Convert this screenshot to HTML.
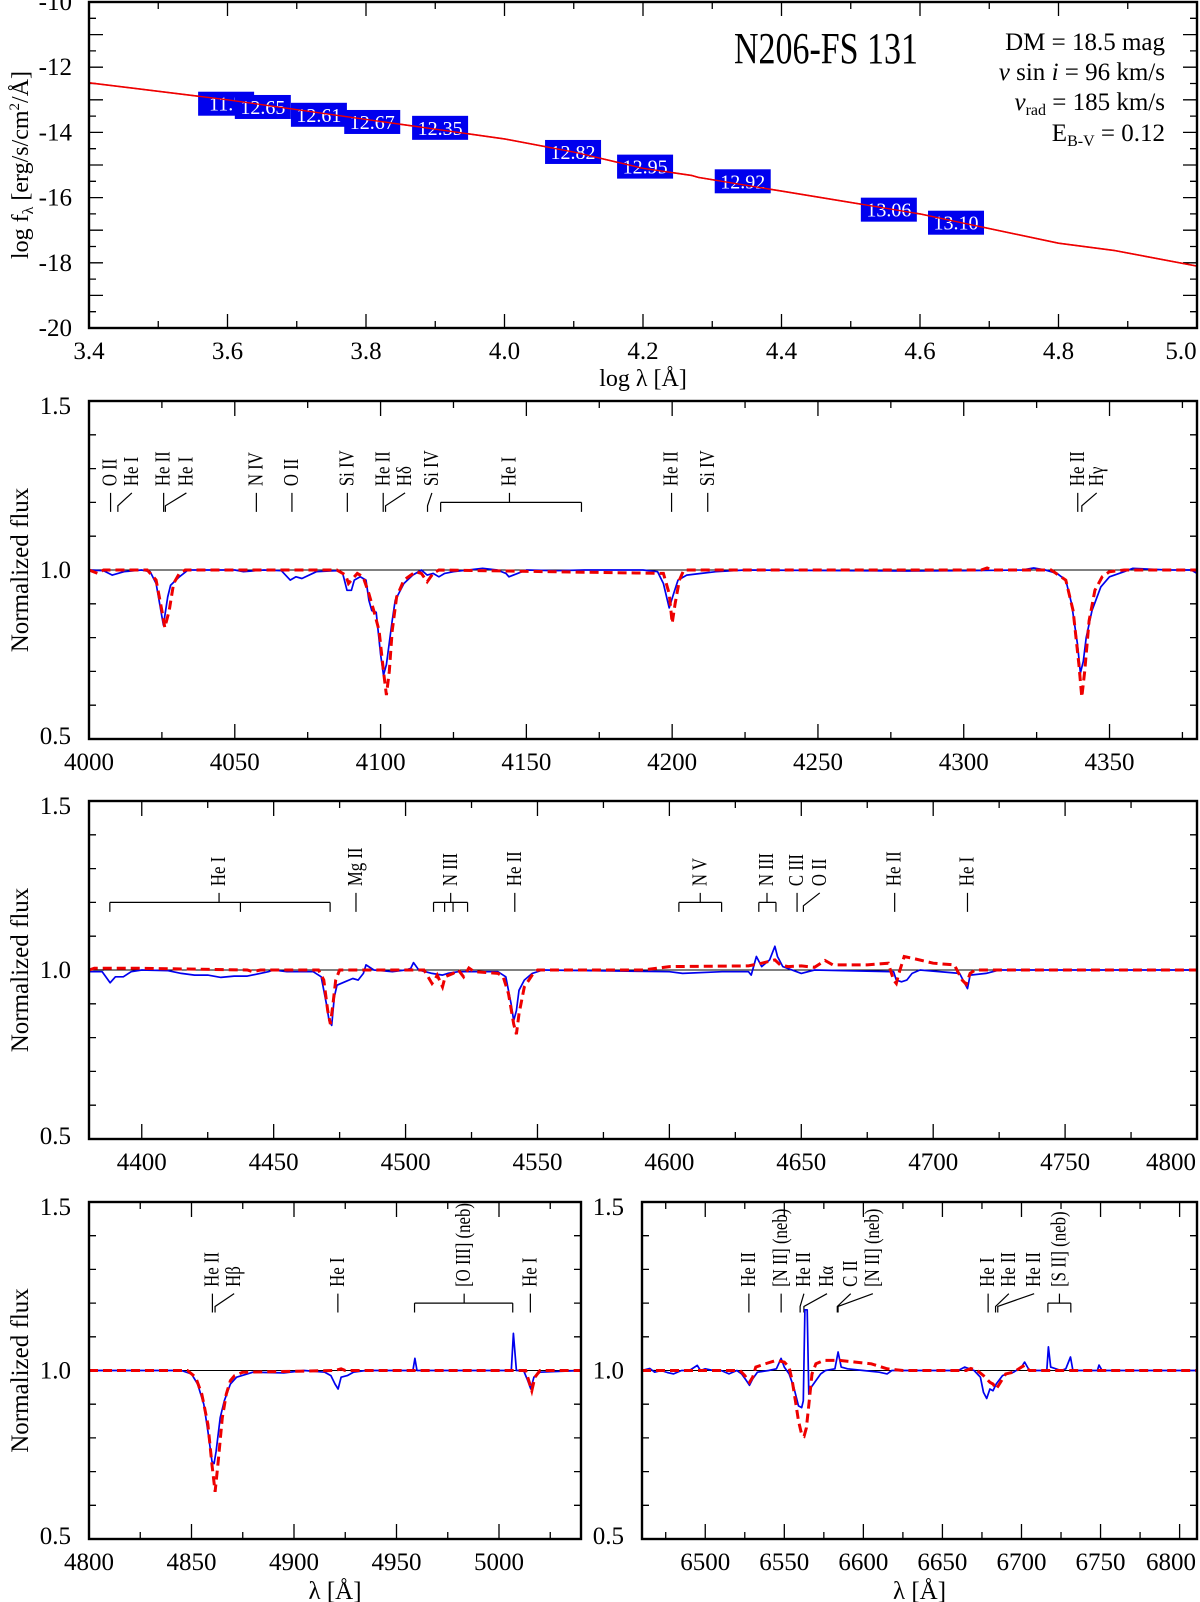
<!DOCTYPE html>
<html><head><meta charset="utf-8"><title>N206-FS 131</title>
<style>
html,body{margin:0;padding:0;background:#fff;}
svg{display:block;font-family:"Liberation Serif",serif;}
</style></head>
<body>
<svg id="fig" xmlns="http://www.w3.org/2000/svg" width="1200" height="1602" viewBox="0 0 1200 1602">
<rect width="1200" height="1602" fill="#fff"/>
</svg>
<script>
// ---------- SED panel data ----------
const sedLogLam = [3.4, 3.6, 3.8, 4.0, 4.1, 4.2, 4.27, 4.28, 4.4, 4.6, 4.8, 4.88, 5.0];
const sedLogF = [-12.48, -13.0, -13.6, -14.2, -14.6, -15.1, -15.32, -15.38, -15.8, -16.5, -17.4, -17.62, -18.1];
const photLogLam = [3.598, 3.651, 3.732, 3.809, 3.907, 4.099, 4.203, 4.344, 4.555, 4.652];
const photLogF = [-13.12, -13.22, -13.46, -13.68, -13.86, -14.6, -15.05, -15.5, -16.37, -16.77];
const photLabels = ["11.7", "12.65", "12.61", "12.67", "12.35", "12.82", "12.95", "12.92", "13.06", "13.10"];
const sedXTicks = ["3.4", "3.6", "3.8", "4.0", "4.2", "4.4", "4.6", "4.8", "5.0"];
const sedYTicks = ["-10", "-12", "-14", "-16", "-18", "-20"];

// ---------- Panel 2 (4000-4380) ----------
const p2Obs = [[4000,1.0],[4005,0.998],[4008,0.985],[4012,0.995],[4018,1.0],[4021,0.995],[4023,0.96],[4025.5,0.837],[4027,0.92],[4028,0.955],[4031,0.98],[4034,1.0],[4050,1.0],[4053,0.995],[4060,1.0],[4066,0.998],[4069,0.97],[4071,0.98],[4073,0.975],[4078,0.995],[4085,0.998],[4087,0.99],[4088.5,0.94],[4090,0.94],[4091,0.97],[4093,0.98],[4095,0.97],[4096,0.91],[4097,0.88],[4098.5,0.875],[4100,0.75],[4101,0.689],[4102,0.72],[4104,0.85],[4105,0.91],[4108,0.96],[4111,0.985],[4114,1.0],[4116,0.985],[4118,0.99],[4120,0.98],[4122,0.99],[4125,0.995],[4135,1.005],[4140,1.0],[4143,0.99],[4144,0.98],[4147,0.99],[4150,1.0],[4160,0.998],[4170,1.0],[4190,1.0],[4195,0.995],[4197,0.96],[4199,0.888],[4200.5,0.93],[4202,0.97],[4205,0.985],[4210,0.99],[4215,0.995],[4225,1.0],[4280,0.997],[4300,0.998],[4320,1.0],[4324,1.006],[4328,1.0],[4332,0.99],[4335,0.97],[4337,0.9],[4339,0.78],[4340,0.695],[4341,0.73],[4342,0.8],[4344,0.88],[4347,0.95],[4350,0.98],[4355,0.995],[4358,1.005],[4370,1.0],[4378,1.0],[4380,0.99]];
const p2Mod = [[4000,1.0],[4003,0.99],[4005,1.0],[4020,1.0],[4023,0.97],[4025,0.88],[4026,0.83],[4027.5,0.88],[4029,0.96],[4031,0.99],[4033,1.0],[4085,1.0],[4088,0.985],[4089,0.96],[4090,0.97],[4092,0.99],[4094,0.98],[4096,0.93],[4098,0.87],[4099.5,0.82],[4101,0.7],[4102,0.63],[4103,0.7],[4104,0.82],[4105.5,0.92],[4108,0.97],[4112,0.995],[4114,0.99],[4116,0.965],[4118,0.99],[4120,1.0],[4197,0.99],[4199,0.93],[4200,0.843],[4201,0.9],[4202.5,0.97],[4204,1.0],[4306,1.0],[4308,1.006],[4310,1.0],[4330,1.0],[4335,0.97],[4337.5,0.88],[4339.5,0.72],[4340.5,0.624],[4341.5,0.7],[4343,0.85],[4345,0.94],[4347.5,0.98],[4350,0.995],[4355,1.0],[4380,1.0]];
const p2Ids = [{t:"O II",lam:4007.4,lx:4007.4},{t:"He I",lam:4009.9,lx:4014.7},{t:"He II",lam:4025.6,lx:4025.6},{t:"He I",lam:4026.2,lx:4033.4},{t:"N IV",lam:4057.4,lx:4057.4},{t:"O II",lam:4069.6,lx:4069.6},{t:"Si IV",lam:4088.6,lx:4088.6},{t:"He II",lam:4100.9,lx:4100.9},{t:"Hδ",lam:4101.7,lx:4108.4},{t:"Si IV",lam:4116.1,lx:4117.6},{t:"He II",lam:4199.8,lx:4199.8},{t:"Si IV",lam:4212.2,lx:4212.2},{t:"He II",lam:4339.1,lx:4339.1},{t:"Hγ",lam:4340.5,lx:4345.6}];
const p2Brackets = [{t:"He I",comps:[4120.6,4168.9],lx:4144.2}];

// ---------- Panel 3 (4380-4800) ----------
const p3Obs = [[4380,0.995],[4385,0.995],[4388,0.962],[4390,0.98],[4393,0.98],[4396,0.995],[4400,1.0],[4410,0.998],[4415,0.99],[4420,0.985],[4425,0.985],[4430,0.978],[4435,0.982],[4440,0.982],[4448,0.995],[4450,1.0],[4455,0.995],[4465,0.995],[4468,0.98],[4470,0.9],[4471,0.85],[4472,0.836],[4473,0.92],[4474,0.955],[4477,0.965],[4480,0.975],[4482,0.97],[4484,0.99],[4485,1.015],[4488,1.0],[4495,0.995],[4500,1.0],[4502,1.005],[4503,1.022],[4505,1.0],[4510,0.99],[4514,0.985],[4516,0.99],[4520,0.995],[4535,0.995],[4538,0.98],[4540,0.9],[4541,0.85],[4542,0.88],[4543,0.94],[4545,0.97],[4548,0.99],[4552,1.0],[4600,0.995],[4605,0.99],[4620,0.995],[4630,0.995],[4631,0.985],[4633,1.04],[4635,1.01],[4638,1.03],[4640,1.07],[4641,1.04],[4643,1.01],[4650,0.99],[4655,1.0],[4685,0.995],[4686,0.97],[4688,0.965],[4690,0.97],[4692,0.99],[4695,1.0],[4710,0.99],[4712,0.96],[4713,0.945],[4714,0.985],[4720,0.99],[4725,1.0],[4800,1.0]];
const p3Mod = [[4380,1.0],[4382,1.005],[4400,1.005],[4440,1.0],[4442,0.995],[4445,1.0],[4467,1.0],[4469,0.97],[4470.5,0.88],[4471.5,0.84],[4472.5,0.9],[4473.5,0.97],[4475,1.0],[4483,1.0],[4500,1.0],[4507,1.0],[4510,0.96],[4511,0.97],[4512,0.985],[4514,0.95],[4515,0.98],[4518,0.99],[4520,1.0],[4522,0.98],[4524,1.006],[4526,0.995],[4535,0.99],[4537,0.98],[4539,0.93],[4541,0.84],[4542,0.81],[4543,0.87],[4545,0.95],[4548,0.985],[4550,1.0],[4590,1.0],[4600,1.01],[4630,1.012],[4635,1.02],[4640,1.03],[4642,1.015],[4645,1.01],[4650,1.012],[4655,1.008],[4659,1.028],[4662,1.015],[4675,1.015],[4683,1.02],[4685,0.97],[4686,0.96],[4687,0.99],[4689,1.04],[4692,1.035],[4700,1.02],[4708,1.015],[4711,0.97],[4712.5,0.958],[4714,0.99],[4716,1.0],[4800,1.0]];
const p3Ids = [{t:"Mg II",lam:4481.2,lx:4481.2},{t:"He II",lam:4541.4,lx:4541.4},{t:"C III",lam:4648.4,lx:4648.4},{t:"O II",lam:4650.8,lx:4657},{t:"He II",lam:4685.4,lx:4685.4},{t:"He I",lam:4713,lx:4713}];
const p3Brackets = [{t:"He I",comps:[4387.9,4437.4,4471.4],lx:4429.3},{t:"N III",comps:[4510.6,4514.8,4518,4523.5],lx:4517.1},{t:"N V",comps:[4603.6,4619.8],lx:4611.7},{t:"N III",comps:[4633.9,4640.4],lx:4637}];

// ---------- Panel 4 (4800-5040) ----------
const p4Obs = [[4800,1.0],[4845,1.0],[4850,0.99],[4853,0.96],[4856,0.9],[4858,0.82],[4860,0.73],[4861,0.724],[4862,0.76],[4864,0.86],[4866,0.91],[4869,0.96],[4872,0.98],[4880,0.995],[4895,0.993],[4905,1.0],[4915,0.995],[4918,0.985],[4920,0.96],[4921.5,0.945],[4923,0.98],[4926,0.985],[4929,0.995],[4935,1.0],[4958,1.0],[4959,1.036],[4960,1.0],[5006,1.0],[5007,1.11],[5008.5,1.0],[5012,1.0],[5014,0.97],[5015.5,0.945],[5017,0.98],[5020,0.995],[5040,1.0]];
const p4Mod = [[4800,1.0],[4848,1.0],[4852,0.98],[4855,0.93],[4858,0.84],[4860,0.72],[4861.5,0.64],[4863,0.73],[4865,0.86],[4867,0.93],[4869,0.97],[4871,0.985],[4875,0.995],[4920,1.0],[4923,1.005],[4925,1.0],[5013,1.0],[5015,0.96],[5016,0.94],[5017.5,0.98],[5020,1.0],[5040,1.0]];
const p4Ids = [{t:"He II",lam:4860.2,lx:4860.2},{t:"Hβ",lam:4861.5,lx:4870.8},{t:"He I",lam:4921.4,lx:4921.4},{t:"He I",lam:5015.3,lx:5015.3}];
const p4Brackets = [{t:"[O III] (neb)",comps:[4958.8,5006.7],lx:4983}];

// ---------- Panel 5 (6460-6811) ----------
const p5Obs = [[6460,1.0],[6465,1.006],[6468,0.995],[6472,1.0],[6476,0.994],[6480,0.99],[6485,1.0],[6490,1.0],[6495,1.015],[6497,1.0],[6500,1.005],[6505,1.0],[6510,1.0],[6515,0.99],[6520,1.0],[6523,0.99],[6526,0.97],[6528,0.956],[6530,0.975],[6533,0.995],[6540,1.0],[6545,1.005],[6548,1.036],[6550,1.01],[6553,0.99],[6556,0.95],[6559,0.895],[6561,0.89],[6562,0.91],[6563,1.18],[6564.5,1.18],[6565.5,0.93],[6567,0.95],[6570,0.97],[6573,0.99],[6576,1.0],[6582,1.005],[6584,1.055],[6586,1.01],[6590,1.005],[6600,1.0],[6610,0.995],[6615,0.99],[6618,1.0],[6640,1.0],[6660,1.0],[6664,1.01],[6670,1.0],[6674,0.98],[6676,0.935],[6678,0.917],[6680,0.945],[6682,0.94],[6684,0.96],[6688,0.985],[6695,0.995],[6700,1.01],[6702,1.025],[6705,1.0],[6716,1.0],[6717,1.07],[6718.5,1.01],[6725,1.0],[6728,1.005],[6731,1.04],[6732.5,1.0],[6740,1.0],[6748,1.0],[6749,1.016],[6751,1.0],[6811,1.0]];
const p5Mod = [[6460,1.0],[6515,1.0],[6522,1.0],[6525,0.985],[6528,0.965],[6530,0.98],[6532,1.01],[6538,1.02],[6545,1.03],[6550,1.025],[6553,1.01],[6555,0.97],[6557,0.91],[6559,0.85],[6561,0.81],[6562.5,0.805],[6564,0.83],[6566,0.92],[6567.5,0.99],[6570,1.02],[6575,1.03],[6585,1.03],[6595,1.025],[6605,1.02],[6615,1.005],[6625,1.0],[6665,1.0],[6668,1.006],[6672,1.0],[6676,0.985],[6680,0.965],[6682,0.96],[6684,0.945],[6686,0.96],[6690,0.99],[6695,0.995],[6700,1.01],[6702,1.015],[6705,1.0],[6811,1.0]];
const p5Ids = [{t:"He II",lam:6527.6,lx:6527.6},{t:"[N II] (neb)",lam:6548,lx:6548},{t:"He II",lam:6560,lx:6562.4},{t:"Hα",lam:6562.4,lx:6577},{t:"C II",lam:6583.5,lx:6592},{t:"[N II] (neb)",lam:6584,lx:6606},{t:"He I",lam:6678.9,lx:6678.9},{t:"He II",lam:6683.6,lx:6692},{t:"He II",lam:6685,lx:6708}];
const p5Brackets = [{t:"[S II] (neb)",comps:[6716.7,6731.2],lx:6724}];

const specYTicks = ["0.5", "1.0", "1.5"];

// ---------- drawing ----------
const NS = "http://www.w3.org/2000/svg";
const svg = document.getElementById("fig");
function el(tag, attrs, parent) {
  const e = document.createElementNS(NS, tag);
  for (const k in attrs) e.setAttribute(k, attrs[k]);
  (parent || svg).appendChild(e);
  return e;
}
function txt(str, attrs, parent) { const e = el("text", attrs, parent); e.textContent = str; return e; }

function frame(g, p) {
  const r = el("rect", {x:p.x0, y:p.y0, width:p.x1-p.x0, height:p.y1-p.y0, fill:"none", stroke:"#000", "stroke-width":2.4}, g);
  
  
}
function ticks(g, p, sx, sy, xs, ys) {
  let d = "";
  xs.forEach(t => { const x = sx(t.v); d += `M${x},${p.y1}V${p.y1-t.l}M${x},${p.y0}V${p.y0+t.l}`; });
  ys.forEach(t => { const y = sy(t.v); d += `M${p.x0},${y}H${p.x0+t.l}M${p.x1},${y}H${p.x1-t.l}`; });
  const path = el("path", {d:d, stroke:"#000", "stroke-width":1.3, fill:"none"}, g);
  
  
}
function poly(g, pts, sx, sy, attrs, name) {
  const d = pts.map((q, i) => (i ? "L" : "M") + sx(q[0]).toFixed(1) + "," + sy(q[1]).toFixed(1)).join("");
  const p = el("path", Object.assign({d:d, fill:"none"}, attrs), g);
  
  
  return p;
}

// ===== Panel 1: SED =====
(function () {
  const p = {x0:89, x1:1197, y0:2, y1:328};
  const sx = v => p.x0 + (v - 3.4) / 1.6 * (p.x1 - p.x0);
  const sy = v => p.y0 + (-10 - v) / 10 * (p.y1 - p.y0);
  const g = el("g", {});
  
  
  const xt = []; for (let i = 0; i <= 16; i++) xt.push({v:3.4 + i*0.1, l: i%2===0 ? 14 : 7});
  const yt = []; for (let i = 0; i <= 20; i++) yt.push({v:-10 - i*0.5, l: i%2===0 ? 14 : 7});
  ticks(g, p, sx, sy, xt, yt);
  sedXTicks.forEach((s, i) => {
    let x = sx(parseFloat(s)); if (i === sedXTicks.length - 1) x -= 16;
    const t = txt(s, {x:x, y:p.y1+31, "font-size":25, "text-anchor":"middle"}, g);
    
    
  });
  sedYTicks.forEach(s => {
    const t = txt(s, {x:72, y:sy(parseFloat(s))+8, "font-size":25, "text-anchor":"end"}, g);
    
    
  });
  const xl = txt("log λ [Å]", {x:643, y:386, "font-size":24, "text-anchor":"middle"}, g);
  
  
  const yl = el("text", {transform:"translate(28,165) rotate(-90)", "font-size":24, "text-anchor":"middle"}, g);
  yl.innerHTML = 'log f<tspan font-size="16" dy="5">λ</tspan><tspan dy="-5"> [erg/s/cm</tspan><tspan font-size="15" dy="-9">2</tspan><tspan dy="9">/Å]</tspan>';
  
  
  poly(g, sedLogLam.map((v, i) => [v, sedLogF[i]]), sx, sy, {stroke:"#e00", "stroke-width":1.6}, "sed-model-line");
  photLogLam.forEach((v, i) => {
    const cx = sx(v), cy = sy(photLogF[i]);
    const r = el("rect", {x:cx-28, y:cy-12, width:56, height:24, fill:"#0000ee"}, g);
    
    
    const t = txt(photLabels[i], {x:cx, y:cy+7, "font-size":20, fill:"#fff", "text-anchor":"middle"}, g);
    
    
  });
  poly(g, sedLogLam.map((v, i) => [v, sedLogF[i]]), sx, sy, {stroke:"#e00", "stroke-width":1.4}, "sed-model-line-overlay");
  frame(g, p);
  const title = txt("N206-FS 131", {x:826, y:63, "font-size":44, "text-anchor":"middle", textLength:184, lengthAdjust:"spacingAndGlyphs"}, g);
  
  
  const info = [
    'DM = 18.5 mag',
    '<tspan font-style="italic">v</tspan> sin <tspan font-style="italic">i</tspan> = 96 km/s',
    '<tspan font-style="italic">v</tspan><tspan font-size="16" dy="5">rad</tspan><tspan dy="-5"> = 185 km/s</tspan>',
    'E<tspan font-size="16" dy="5">B-V</tspan><tspan dy="-5">  = 0.12</tspan>'
  ];
  const ys = [50, 80, 110, 141];
  info.forEach((h, i) => {
    const t = el("text", {x:1165, y:ys[i], "font-size":25, "text-anchor":"end"}, g);
    t.innerHTML = h;
    
    
  });
})();

// ===== Spectral panels =====
function specPanel(cfg) {
  const p = cfg.box;
  const sx = v => p.x0 + (v - cfg.xmin) / (cfg.xmax - cfg.xmin) * (p.x1 - p.x0);
  const sy = v => p.y1 - (v - 0.5) * (p.y1 - p.y0);
  const g = el("g", {});
  
  
  const xt = [];
  for (let v = Math.ceil(cfg.xmin/25)*25; v <= cfg.xmax; v += 25) xt.push({v:v, l: v%50===0 ? 15 : 7});
  const yt = []; for (let i = 0; i <= 10; i++) yt.push({v:0.5 + i*0.1, l: i%5===0 ? 15 : 7});
  ticks(g, p, sx, sy, xt, yt);
  const cont = el("line", {x1:p.x0, x2:p.x1, y1:sy(1), y2:sy(1), stroke:"#000", "stroke-width":1}, g);
  
  
  for (let v = Math.ceil(cfg.xmin/50)*50; v <= cfg.xmax; v += 50) {
    let x = sx(v); if (x > p.x1 - 20) x = p.x1 - 26;
    const t = txt(String(v), {x:x, y:p.y1+31, "font-size":25, "text-anchor":"middle"}, g);
    
    
  }
  specYTicks.forEach(s => {
    const v = parseFloat(s);
    let y = sy(v) + 8; if (v === 1.5) y += 5; if (v === 0.5) y -= 3;
    const t = txt(s, {x:p.x0-18, y:y, "font-size":25, "text-anchor":"end"}, g);
    
    
  });
  if (cfg.ylabel) {
    const t = txt("Normalized flux", {transform:`translate(28,${(p.y0+p.y1)/2}) rotate(-90)`, "font-size":25, "text-anchor":"middle"}, g);
    
    
  }
  if (cfg.xlabel) {
    const t = txt("λ [Å]", {x:(p.x0+p.x1)/2, y:p.y1+60, "font-size":25, "text-anchor":"middle"}, g);
    
    
  }
  const yb = 1.172, ym = 1.2, yt2 = 1.228, ytext = 1.248;
  let d = "";
  cfg.ids.forEach(id => {
    const xl = sx(id.lam), xx = sx(id.lx);
    if (Math.abs(id.lx - id.lam) < 0.5) d += `M${xl},${sy(yb)}V${sy(yt2)}`;
    else d += `M${xl},${sy(yb)}V${sy(1.19)}L${xx},${sy(yt2)}`;
    const t = txt(id.t, {transform:`translate(${xx},${sy(ytext)}) rotate(-90) scale(0.8,1)`, "font-size":21, "dominant-baseline":"central"}, g);
    
    
  });
  cfg.brackets.forEach(b => {
    const c = b.comps;
    d += `M${sx(c[0])},${sy(ym)}H${sx(c[c.length-1])}`;
    c.forEach(v => { d += `M${sx(v)},${sy(ym)}V${sy(yb)}`; });
    d += `M${sx(b.lx)},${sy(ym)}V${sy(yt2)}`;
    const t = txt(b.t, {transform:`translate(${sx(b.lx)},${sy(ytext)}) rotate(-90) scale(0.8,1)`, "font-size":21, "dominant-baseline":"central"}, g);
    
    
  });
  const marks = el("path", {d:d, stroke:"#000", "stroke-width":1.2, fill:"none"}, g);
  
  
  poly(g, cfg.obs, sx, sy, {stroke:"#0000ee", "stroke-width":1.7, "stroke-linejoin":"round"}, "observed-spectrum");
  poly(g, cfg.mod, sx, sy, {stroke:"#ee0000", "stroke-width":3, "stroke-dasharray":"9,5"}, "model-spectrum");
  frame(g, p);
}

specPanel({name:"spectrum-panel-4000-4380", box:{x0:89,x1:1197,y0:401,y1:739}, xmin:4000, xmax:4380, obs:p2Obs, mod:p2Mod, ids:p2Ids, brackets:p2Brackets, ylabel:true});
specPanel({name:"spectrum-panel-4380-4800", box:{x0:89,x1:1197,y0:801,y1:1139}, xmin:4380, xmax:4800, obs:p3Obs, mod:p3Mod, ids:p3Ids, brackets:p3Brackets, ylabel:true});
specPanel({name:"spectrum-panel-hbeta", box:{x0:89,x1:581,y0:1202,y1:1539}, xmin:4800, xmax:5040, obs:p4Obs, mod:p4Mod, ids:p4Ids, brackets:p4Brackets, ylabel:true, xlabel:true});
specPanel({name:"spectrum-panel-halpha", box:{x0:642,x1:1197,y0:1202,y1:1539}, xmin:6460, xmax:6811, obs:p5Obs, mod:p5Mod, ids:p5Ids, brackets:p5Brackets, xlabel:true});
</script>
</body></html>
